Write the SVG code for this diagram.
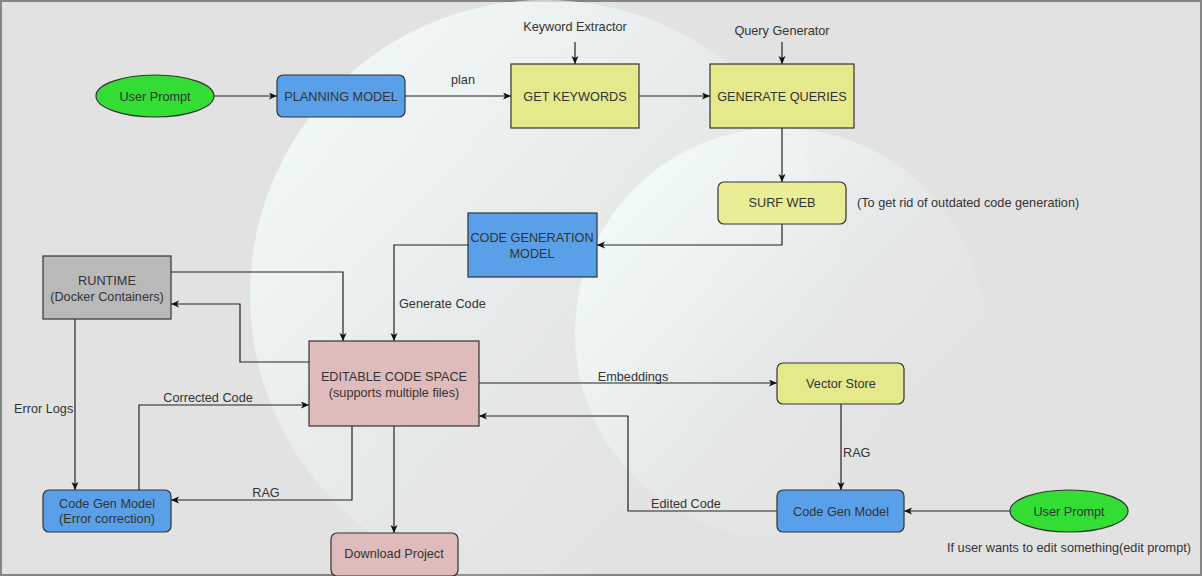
<svg xmlns="http://www.w3.org/2000/svg" width="1202" height="576" viewBox="0 0 1202 576">
<style>
text{font-family:"Liberation Sans",Arial,sans-serif;font-size:12.7px;fill:#333;}
.c{text-anchor:middle;}
.blue{fill:#5aa0e8;stroke:#333;stroke-width:1.2;}
.yel{fill:#e4ea8c;stroke:#333;stroke-width:1.2;}
.pink{fill:#dfbbbb;stroke:#333;stroke-width:1.2;}
.gray{fill:#b9b9b9;stroke:#333;stroke-width:1.2;}
.green{fill:#33dd33;stroke:#333;stroke-width:1.2;}
.ln{fill:none;stroke:#222;stroke-width:1.2;}
</style>
<defs>
<marker id="ah" markerWidth="9" markerHeight="8" refX="8" refY="3.5" orient="auto" markerUnits="userSpaceOnUse">
<path d="M0,0 L8,3.5 L0,7 L2,3.5 z" fill="#111"/>
</marker>
<linearGradient id="glow" x1="0.05" y1="0.2" x2="0.85" y2="0.95">
<stop offset="0" stop-color="#f4fcfc" stop-opacity="0.85"/>
<stop offset="0.5" stop-color="#f0f8f8" stop-opacity="0.3"/>
<stop offset="0.85" stop-color="#eef4f4" stop-opacity="0"/>
</linearGradient>
</defs>
<rect x="1" y="1" width="1200" height="574" fill="#e2e2e2" stroke="#858585" stroke-width="2"/>
<g id="background">
<circle cx="545" cy="295" r="295" fill="url(#glow)"/>
<circle cx="780" cy="333" r="205" fill="url(#glow)"/>
</g>
<g id="connectors">
<path class="ln" d="M213,96 H277" marker-end="url(#ah)"/>
<path class="ln" d="M405,96 H511" marker-end="url(#ah)"/>
<path class="ln" d="M575,42 V64" marker-end="url(#ah)"/>
<path class="ln" d="M639,96 H710" marker-end="url(#ah)"/>
<path class="ln" d="M782,42 V64" marker-end="url(#ah)"/>
<path class="ln" d="M782,128 V182" marker-end="url(#ah)"/>
<path class="ln" d="M782,224 V245 H597" marker-end="url(#ah)"/>
<path class="ln" d="M468,245 H394 V341" marker-end="url(#ah)"/>
<path class="ln" d="M171,272 H343 V341" marker-end="url(#ah)"/>
<path class="ln" d="M309,362 H240 V304 H171" marker-end="url(#ah)"/>
<path class="ln" d="M75,319 V490" marker-end="url(#ah)"/>
<path class="ln" d="M139,490 V405 H309" marker-end="url(#ah)"/>
<path class="ln" d="M352,426 V500 H171" marker-end="url(#ah)"/>
<path class="ln" d="M394,426 V533" marker-end="url(#ah)"/>
<path class="ln" d="M479,383 H777" marker-end="url(#ah)"/>
<path class="ln" d="M841,404 V490" marker-end="url(#ah)"/>
<path class="ln" d="M777,511 H628 V416 H479" marker-end="url(#ah)"/>
<path class="ln" d="M1010,511 H904" marker-end="url(#ah)"/>
<text class="c" x="463" y="84">plan</text>
<text x="399" y="307.5">Generate Code</text>
<text x="14" y="412.5">Error Logs</text>
<text class="c" x="208" y="401.5">Corrected Code</text>
<text class="c" x="266" y="496.5">RAG</text>
<text class="c" x="633" y="380.5">Embeddings</text>
<text x="843" y="456.5">RAG</text>
<text class="c" x="686" y="507.5">Edited Code</text>
</g>
<g id="user-prompt-1">
<ellipse class="green" cx="155" cy="96" rx="59" ry="21"/>
<text class="c" x="155" y="100.5">User Prompt</text>
</g>
<g id="planning-model">
<rect class="blue" x="277" y="75" width="128" height="42" rx="6"/>
<text class="c" x="341" y="100.5">PLANNING MODEL</text>
</g>
<g id="get-keywords">
<rect class="yel" x="511" y="64" width="128" height="64"/>
<text class="c" x="575" y="100.5">GET KEYWORDS</text>
</g>
<g id="keyword-extractor">
<text class="c" x="575" y="30.5">Keyword Extractor</text>
</g>
<g id="generate-queries">
<rect class="yel" x="710" y="64" width="144" height="64"/>
<text class="c" x="782" y="100.5">GENERATE QUERIES</text>
</g>
<g id="query-generator">
<text class="c" x="782" y="34.5">Query Generator</text>
</g>
<g id="surf-web">
<rect class="yel" x="718" y="182" width="128" height="42" rx="6" style="fill:#e9ed96"/>
<text class="c" x="782" y="207">SURF WEB</text>
<text x="857" y="207">(To get rid of outdated code generation)</text>
</g>
<g id="code-generation-model">
<rect class="blue" x="468" y="213" width="129" height="64"/>
<text class="c" x="532" y="241.5">CODE GENERATION</text>
<text class="c" x="532" y="257.5">MODEL</text>
</g>
<g id="runtime">
<rect class="gray" x="43" y="256" width="128" height="63"/>
<text class="c" x="107" y="284.5">RUNTIME</text>
<text class="c" x="107" y="300.5">(Docker Containers)</text>
</g>
<g id="editable-code-space">
<rect class="pink" x="309" y="341" width="170" height="85"/>
<text class="c" x="394" y="380.5">EDITABLE CODE SPACE</text>
<text class="c" x="394" y="396.5">(supports multiple files)</text>
</g>
<g id="code-gen-error">
<rect class="blue" x="43" y="490" width="128" height="42" rx="6"/>
<text class="c" x="107" y="507.5">Code Gen Model</text>
<text class="c" x="107" y="522.5">(Error correction)</text>
</g>
<g id="download-project">
<rect class="pink" x="331" y="533" width="127" height="43" rx="6"/>
<text class="c" x="394" y="557.5">Download Project</text>
</g>
<g id="vector-store">
<rect class="yel" x="777" y="363" width="127" height="41" rx="6"/>
<text class="c" x="841" y="387.5">Vector Store</text>
</g>
<g id="code-gen-model">
<rect class="blue" x="777" y="490" width="127" height="42" rx="6"/>
<text class="c" x="841" y="515.5">Code Gen Model</text>
</g>
<g id="user-prompt-2">
<ellipse class="green" cx="1069" cy="511" rx="59" ry="21"/>
<text class="c" x="1069" y="515.5">User Prompt</text>
<text class="c" x="1069" y="552">If user wants to edit something(edit prompt)</text>
</g>
</svg>
